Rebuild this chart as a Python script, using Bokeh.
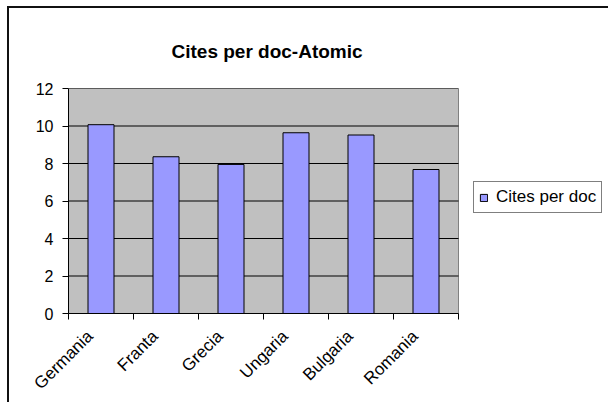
import math
from bokeh.plotting import figure
from bokeh.models import ColumnDataSource, FixedTicker, Range1d, Legend, LegendItem
from bokeh.embed import file_html
from bokeh.resources import INLINE

categories = ["Germania", "Franta", "Grecia", "Ungaria", "Bulgaria", "Romania"]
cites_per_doc = [10.07, 8.36, 7.95, 9.64, 9.52, 7.68]
y_ticks = [0, 2, 4, 6, 8, 10, 12]

n = len(categories)
positions = [i + 0.5 for i in range(n)]
boundaries = list(range(n + 1))
label_shift = 11 / 65.0  # style: nudge rotated labels left like the original
label_pos = [x - label_shift for x in positions]

src = ColumnDataSource(dict(x=positions, top=cites_per_doc, cat=categories))

FONT = "Liberation Sans"

W, H = 601, 396
BL, BR, BT, BB = 59, 2, 80, 91
frame_w = W - BL - BR
plot_area_w = 390
x_end = n * frame_w / plot_area_w

p = figure(width=W, height=H, output_backend="svg", toolbar_location=None,
           x_range=Range1d(0, x_end), y_range=Range1d(0, y_ticks[-1]),
           min_border_left=BL, min_border_right=BR, min_border_top=BT, min_border_bottom=BB,
           title="Cites per doc-Atomic")
p.styles = {"border-top": "2px solid #111", "border-left": "2px solid #111",
            "margin-left": "7px", "margin-top": "6px"}

p.title.align = "left"
p.title.offset = 103
p.title.vertical_align = "top"
p.title.text_font = FONT
p.title.text_font_size = "19px"
p.title.text_font_style = "bold"
p.title.text_color = "black"
p.title.standoff = 50

p.background_fill_color = "white"
p.border_fill_color = "white"
p.outline_line_color = None
p.xgrid.grid_line_color = None
p.ygrid.grid_line_color = None

# plot area (gray) limited to the category span
p.quad(left=[0], right=[n], bottom=[y_ticks[0]], top=[y_ticks[-1]],
       fill_color="#C0C0C0", line_color="#808080", line_width=1)

# horizontal gridlines across the plot area only
p.segment(x0=[0] * len(y_ticks), x1=[n] * len(y_ticks), y0=y_ticks, y1=y_ticks,
          line_color="black", line_width=1)

r = p.vbar(x="x", top="top", width=0.4, bottom=0, source=src,
           fill_color="#9999FF", line_color="black", line_width=1)

# axes
xa = p.xaxis[0]
xa.bounds = (0, n)
xa.ticker = FixedTicker(ticks=label_pos, minor_ticks=boundaries)
xa.major_label_overrides = {pos: c for pos, c in zip(label_pos, categories)}
xa.major_tick_out = 0
xa.major_tick_in = 0
xa.minor_tick_out = 6
xa.minor_tick_in = 0
xa.minor_tick_line_color = "black"
xa.axis_line_color = "black"
xa.major_label_orientation = math.pi / 4
xa.major_label_text_font = FONT
xa.major_label_text_font_size = "17px"
xa.major_label_text_color = "black"
xa.major_label_standoff = 14

ya = p.yaxis[0]
ya.ticker = FixedTicker(ticks=y_ticks)
ya.major_tick_out = 6
ya.major_tick_in = 0
ya.minor_tick_line_color = None
ya.axis_line_color = "black"
ya.major_tick_line_color = "black"
ya.major_label_text_font = FONT
ya.major_label_text_font_size = "16px"
ya.major_label_text_color = "black"
ya.major_label_standoff = 9

legend = Legend(items=[LegendItem(label="Cites per doc", renderers=[r])],
                location=(405, 100))
legend.border_line_color = "black"
legend.border_line_width = 1
legend.background_fill_color = "white"
legend.background_fill_alpha = 1
legend.padding = 5
legend.margin = 0
legend.glyph_width = 9
legend.glyph_height = 9
legend.label_standoff = 8
legend.label_height = 18
legend.label_text_font = FONT
legend.label_text_font_size = "17px"
legend.label_text_color = "black"
legend.label_text_baseline = "middle"
p.add_layout(legend, "center")

open("out.html", "w").write(file_html(p, INLINE))
